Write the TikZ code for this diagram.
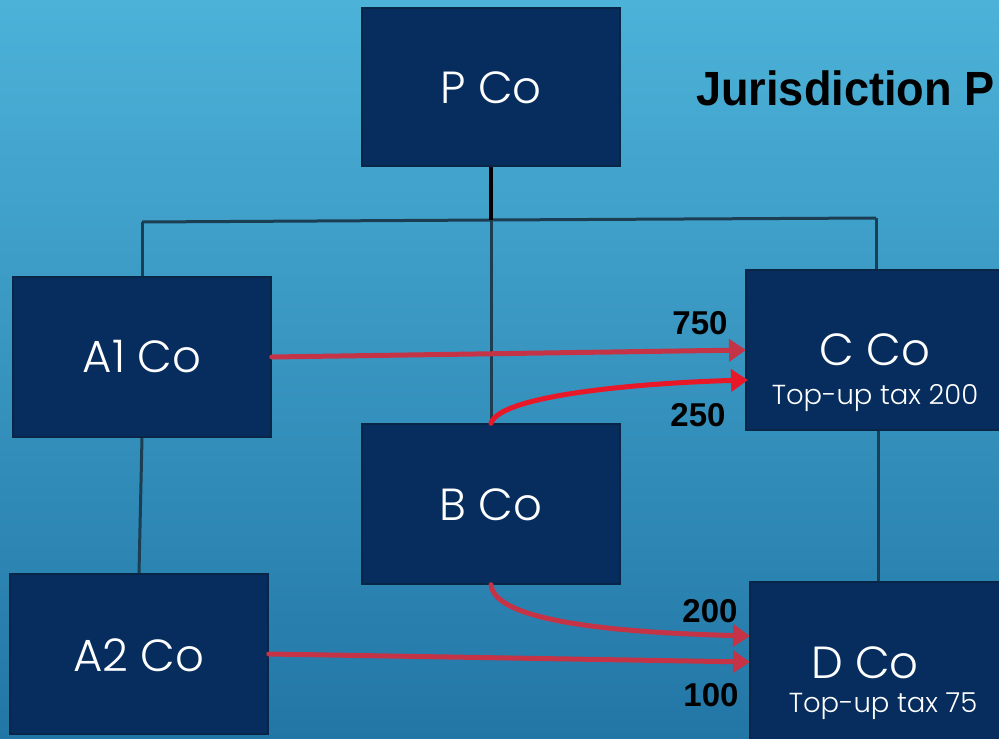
\documentclass[tikz,border=0pt]{standalone}
\usepackage{fontspec}
\setmainfont{Poppins}[UprightFont=* Light]
\newfontfamily\labelfont{Liberation Sans}
\usetikzlibrary{arrows.meta}
\pgfdeclarelayer{backdrop}
\pgfdeclarelayer{links}
\pgfsetlayers{backdrop,links,main}
\definecolor{boxfill}{RGB}{6,45,94}
\definecolor{boxedge}{RGB}{10,38,70}
\definecolor{linkline}{RGB}{28,62,82}
\definecolor{flowred}{RGB}{196,52,70}
\definecolor{flowbright}{RGB}{232,24,40}
\definecolor{bgtop}{RGB}{76,178,216}
\definecolor{bgbottom}{RGB}{34,118,166}
\tikzset{
  entity/.style={draw=boxedge, line width=1.5pt, fill=boxfill, minimum width=258pt, minimum height=160pt, inner sep=0pt},
  ownline/.style={draw=linkline, line width=3pt},
  flow/.style={draw=flowred, line width=5pt, line cap=round, -{Triangle[length=17pt,width=22pt]}},
  flowhot/.style={draw=flowbright, line width=5pt, line cap=round, -{Triangle[length=17pt,width=22pt]}},
  amount/.style={font=\labelfont\bfseries\fontsize{33}{34}\selectfont, text=black, inner sep=0pt},
  coname/.style={text=white, font=\fontsize{45}{48}\selectfont},
  conote/.style={text=white, font=\fontsize{27.5}{29}\selectfont}
}
\begin{document}
\begin{tikzpicture}[x=1pt, y=-1pt]
\useasboundingbox (0,0) rectangle (999,739);
\begin{pgfonlayer}{backdrop}
\shade[top color=bgtop, bottom color=bgbottom] (0,0) rectangle (999,739);
\end{pgfonlayer}
\clip (0,0) rectangle (999,739);

% companies
\node[entity, minimum height=158pt] (P) at (491,87) {};
\node[entity] (A1) at (142,357) {};
\node[entity] (A2) at (139,654) {};
\node[entity] (B) at (491,504) {};
\node[entity, minimum width=260pt] (C) at (876,350) {};
\node[entity, minimum width=256pt] (D) at (878,662) {};

% ownership tree
\coordinate (hub) at (491,220);
\coordinate (lt) at (142,222);
\coordinate (rt) at (876,218);
\begin{pgfonlayer}{links}
\draw[ownline] (lt) -- (hub) -- (rt);
\draw[ownline] (lt) -- (A1.north -| lt);
\draw[ownline] (rt) -- (C.north -| rt);
\draw[ownline] (hub) -- (B.north);
\draw[line width=3.5pt, black] (P.south) -- (hub);
\draw[ownline] (A1.south) -- (A2.north);
\draw[ownline] (C.south -| D.north) -- (D.north);
\end{pgfonlayer}

\node[coname] at (491,88) {P Co};
\node[coname] at (142,357) {A1 Co};
\node[coname] at (139,655) {A2 Co};
\node[coname] at (491,505) {B Co};
\node[coname] at (875,350) {C Co};
\node[conote] at (875,398) {Top-up tax 200};
\node[coname] at (865,663) {D Co};
\node[conote] at (883,706) {Top-up tax 75};

\node[font=\labelfont\bfseries\fontsize{48}{50}\selectfont, anchor=west, inner sep=0pt] (title) at (696,88) {\scalebox{0.94}[1]{Jurisdiction P}};

% income flows
\coordinate (cin1) at (746,350);
\coordinate (cin2) at (748,380);
\coordinate (din1) at (750,636);
\coordinate (din2) at (750,662);
\draw[flow] (A1.east) -- (cin1);
\draw[flowhot] (B.north) .. controls (500,395) and (640,383) .. (cin2);
\draw[flow] (B.south) .. controls (495,625) and (640,633) .. (din1);
\draw[flow] (A2.east) -- (din2);

\node[amount] at (700,323) {750};
\node[amount] at (698,415) {250};
\node[amount] at (710,611) {200};
\node[amount] at (711,695) {100};
\end{tikzpicture}
\end{document}
